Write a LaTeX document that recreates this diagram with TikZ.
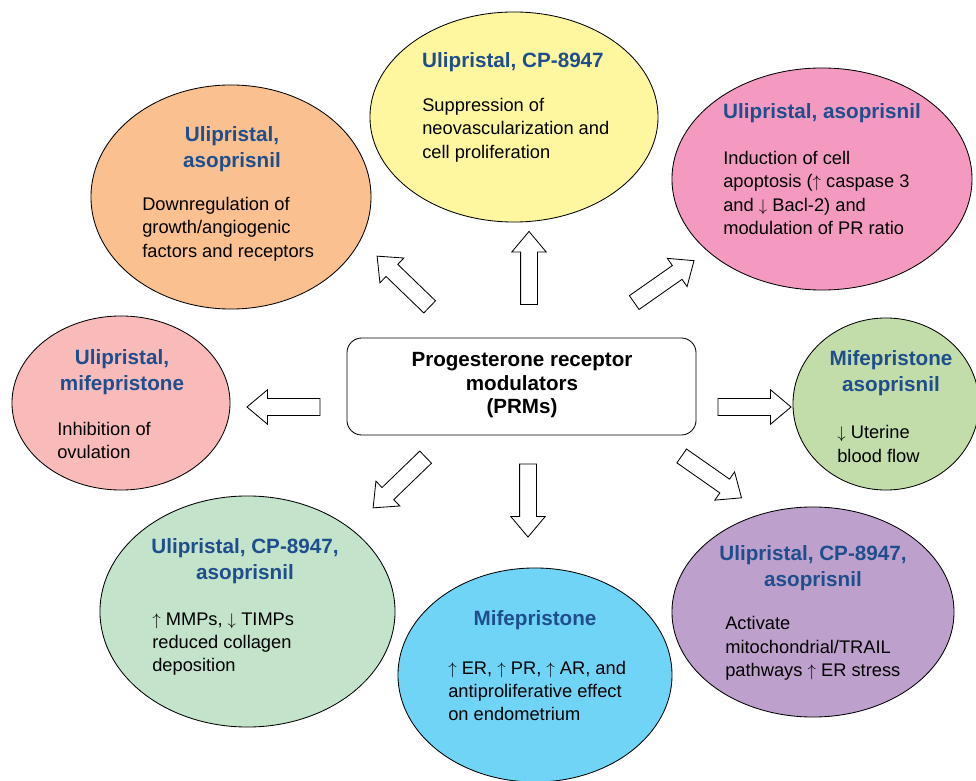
\documentclass[tikz,border=0pt]{standalone}
\usepackage{fontspec}
\setmainfont{Liberation Sans}
\usetikzlibrary{shapes.geometric,shapes.arrows}
\definecolor{titleblue}{RGB}{31,78,140}
\definecolor{cOrange}{RGB}{250,192,144}
\definecolor{cYellow}{RGB}{255,246,160}
\definecolor{cPink}{RGB}{244,154,193}
\definecolor{cSalmon}{RGB}{248,187,186}
\definecolor{cLeaf}{RGB}{194,221,170}
\definecolor{cMint}{RGB}{195,227,202}
\definecolor{cSky}{RGB}{112,212,246}
\definecolor{cLilac}{RGB}{190,160,205}
\newcommand{\arrUp}{$\uparrow$}
\newcommand{\arrDn}{$\downarrow$}
\begin{document}
\begin{tikzpicture}[x=0.025cm,y=-0.025cm,
  bubble/.style={ellipse,draw=black,line width=0.6pt,inner sep=0pt},
  head/.style={font=\fontsize{14.7}{18.5}\selectfont\bfseries,text=titleblue,align=center,inner sep=0pt},
  body/.style={font=\fontsize{13}{16.6}\selectfont,align=left,anchor=west,inner sep=0pt},
  fat/.style={single arrow,draw=black,fill=white,line width=0.6pt,inner xsep=0pt,inner ysep=0.2cm,
    minimum height=1.825cm,single arrow head extend=0.22cm,single arrow tip angle=80}]
\useasboundingbox (0,0) rectangle (976,781);

% bubbles
\node[bubble,fill=cOrange,minimum width=7cm,minimum height=5.6cm] (nGrowth) at (231,197) {};
\node[bubble,fill=cYellow,minimum width=7.2cm,minimum height=5.25cm] (nNeovasc) at (514,117) {};
\node[bubble,fill=cPink,minimum width=7.5cm,minimum height=5.55cm] (nApopt) at (822,179) {};
\node[bubble,fill=cSalmon,minimum width=5.45cm,minimum height=4.35cm] (nOvul) at (121,403) {};
\node[bubble,fill=cLeaf,minimum width=4.65cm,minimum height=4.3cm] (nFlow) at (886,404) {};
\node[bubble,fill=cMint,minimum width=7.375cm,minimum height=5.775cm] (nCollagen) at (247.5,611.5) {};
\node[bubble,fill=cSky,minimum width=6.85cm,minimum height=5.35cm] (nEndo) at (535,675) {};
\node[bubble,fill=cLilac,minimum width=7.05cm,minimum height=5.25cm] (nStress) at (813,612) {};

% centre
\node[draw=black,line width=0.6pt,fill=white,rounded corners=0.37cm,minimum width=8.725cm,minimum height=2.425cm] (prm) at (521.5,386.5) {};
\node[font=\fontsize{14.65}{16.7}\selectfont\bfseries,align=center,inner sep=0pt] (prmText) at (522,385.5) {Progesterone receptor\\modulators\\(PRMs)};

% texts
\node[head] (tGrowth) at (232,149.5) {Ulipristal,\\asoprisnil};
\node[body] (bGrowth) at (142,229) {Downregulation of\\growth/angiogenic\\factors and receptors};
\node[head] (tNeovasc) at (513,62) {Ulipristal, CP-8947};
\node[body] (bNeovasc) at (422,130) {Suppression of\\neovascularization and\\cell proliferation};
\node[head] (tApopt) at (822,113) {Ulipristal, asoprisnil};
\node[body] (bApopt) at (723,193) {Induction of cell\\apoptosis (\arrUp{} caspase 3\\and \arrDn{} Bacl-2) and\\modulation of PR ratio};
\node[head] (tOvul) at (122,372.5) {Ulipristal,\\mifepristone};
\node[body] (bOvul) at (57,440.5) {Inhibition of\\ovulation};
\node[head] (tFlow) at (891,373) {Mifepristone\\asoprisnil};
\node[body] (bFlow) at (837,444) {\arrDn{} Uterine\\blood flow};
\node[head] (tCollagen) at (245,561) {Ulipristal, CP-8947,\\asoprisnil};
\node[body] (bCollagen) at (152,644) {\arrUp{} MMPs, \arrDn{} TIMPs\\reduced collagen\\deposition};
\node[head] (tEndo) at (535,620) {Mifepristone};
\node[body] (bEndo) at (448,691) {\arrUp{} ER, \arrUp{} PR, \arrUp{} AR, and\\antiproliferative effect\\on endometrium};
\node[head] (tStress) at (813,568.5) {Ulipristal, CP-8947,\\asoprisnil};
\node[body] (bStress) at (725,648.5) {Activate\\mitochondrial/TRAIL\\pathways \arrUp{} ER stress};

% block arrows
\node[fat,rotate=136] (aGrowth) at (407,285) {};
\node[fat,rotate=90] (aNeovasc) at (529,273) {};
\node[fat,rotate=35] (aApopt) at (660,284.5) {};
\node[fat,rotate=180] (aOvul) at (288.5,407) {};
\node[fat] (aFlow) at (749.5,407) {};
\node[fat,rotate=224] (aCollagen) at (403,479) {};
\node[fat,rotate=270] (aEndo) at (528,495.5) {};
\node[fat,rotate=-35] (aStress) at (707.5,474) {};
\end{tikzpicture}
\end{document}
